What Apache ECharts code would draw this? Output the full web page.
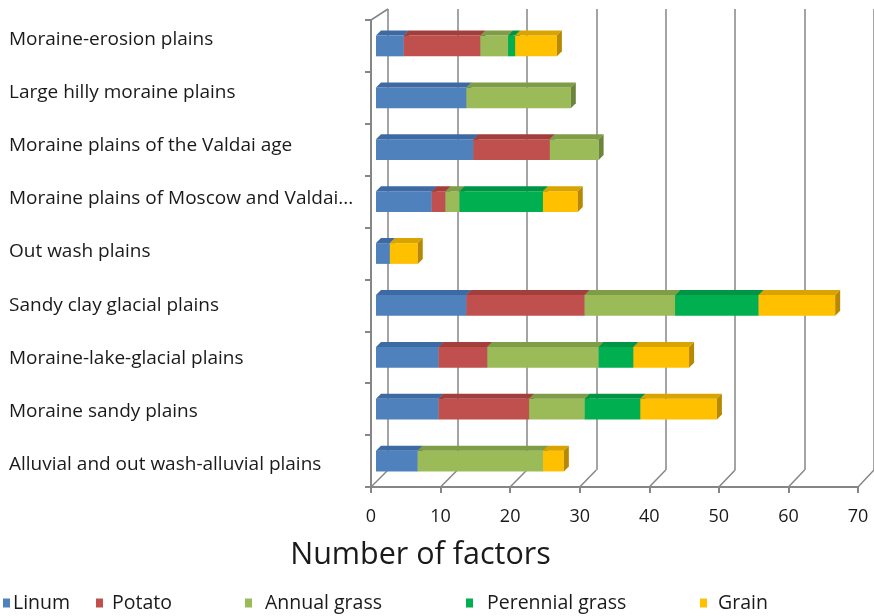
<!DOCTYPE html>
<html>
<head>
<meta charset="utf-8">
<script src="https://cdn.jsdelivr.net/npm/echarts@6/dist/echarts.min.js"></script>
<style>
  html, body { margin: 0; padding: 0; background: #fff; }
  #main { width: 874px; height: 616px; }
</style>
</head>
<body>
<div id="main"></div>
<script>
// data, top row first
const categories = [
  'Moraine-erosion plains',
  'Large hilly moraine plains',
  'Moraine plains of the Valdai age',
  'Moraine plains of Moscow and Valdai...',
  'Out wash plains',
  'Sandy clay glacial plains',
  'Moraine-lake-glacial plains',
  'Moraine sandy plains',
  'Alluvial and out wash-alluvial plains'
];
const linum = [4, 13, 14, 8, 2, 13, 9, 9, 6];
const potato = [11, 0, 11, 2, 0, 17, 7, 13, 0];
const annualGrass = [4, 15, 7, 2, 0, 13, 16, 8, 18];
const perennialGrass = [1, 0, 0, 12, 0, 12, 5, 8, 0];
const grain = [6, 0, 0, 5, 4, 11, 8, 11, 3];
const seriesNames = ['Linum', 'Potato', 'Annual grass', 'Perennial grass', 'Grain'];
const xTicks = [0, 10, 20, 30, 40, 50, 60, 70];

const front = ['#4f81bd', '#c0504d', '#9bbb59', '#00b050', '#ffc000'];
const topFace = ['#3e6aa3', '#a23e3b', '#7f9c47', '#009544', '#d9a300'];
const sideFace = ['#345a8c', '#8a3331', '#6b853b', '#007a37', '#b88800'];

const font = 'Open Sans';
const txt = '#1a1a1a';
const gridCol = '#868686';

const values = [linum, potato, annualGrass, perennialGrass, grain];
// running sums so each segment knows where it starts
const startAt = categories.map(() => 0);
const series = values.map((vals, si) => {
  const data = vals.map((v, ci) => {
    const s = startAt[ci];
    startAt[ci] += v;
    return [s, s + v, ci];
  });
  return {
    name: seriesNames[si],
    type: 'custom',
    xAxisIndex: 2,
    yAxisIndex: 2,
    itemStyle: { color: front[si] },
    encode: { x: [0, 1], y: 2 },
    renderItem: (params, api) => {
      const s = api.value(0), e = api.value(1), c = api.value(2);
      if (e <= s) return;
      const p0 = api.coord([s, c]);
      const p1 = api.coord([e, c]);
      const h = api.size([0, 1])[1] * 0.4;
      const d = 5;
      const y = p0[1] - h / 2;
      const x0 = p0[0], x1 = p1[0];
      return {
        type: 'group',
        children: [
          { type: 'rect', shape: { x: x0, y: y, width: x1 - x0, height: h }, style: { fill: front[si] } },
          { type: 'polygon', shape: { points: [[x0, y], [x0 + d, y - d], [x1 + d, y - d], [x1, y]] }, style: { fill: topFace[si] } },
          { type: 'polygon', shape: { points: [[x1, y], [x1 + d, y - d], [x1 + d, y + h - d], [x1, y + h]] }, style: { fill: sideFace[si] } }
        ]
      };
    },
    data: data
  };
});

// legend entries are spread unevenly in the original
const legendX = [-2, 91, 240, 461, 695];
const legendGap = [-2, 4, 8, 9, 6];
const legends = seriesNames.map((n, i) => ({
  data: [n],
  left: legendX[i],
  bottom: -2,
  icon: 'rect',
  itemWidth: 7,
  itemHeight: 9,
  textStyle: { fontFamily: font, fontSize: 19.5, color: txt, padding: [0, 0, 0, legendGap[i]] }
}));

const chart = echarts.init(document.getElementById('main'));
const option = {
  animation: false,
  color: front,
  legend: legends,
  grid: [
    { left: 371, right: 16, top: 20, bottom: 129 },   // front axes
    { left: 388, right: -1, top: 9, bottom: 146 },    // back wall lines
    { left: 376, right: 11, top: 20, bottom: 129 },   // bars
    { left: 371, right: 16, top: 13, bottom: 125 }    // category labels
  ],
  xAxis: [
    {
      gridIndex: 0, type: 'value', min: 0, max: 70, interval: 10,
      axisLine: { show: true, lineStyle: { color: gridCol, width: 2 } },
      axisTick: { show: true, length: 6, lineStyle: { color: gridCol, width: 2 } },
      axisLabel: { fontFamily: font, fontSize: 18, color: txt, margin: 21 },
      splitLine: { show: false },
      name: 'Number of factors', nameLocation: 'middle', nameGap: 53,
      nameTextStyle: { fontFamily: font, fontSize: 30.5, color: txt, padding: [0, 388, 0, 0] }
    },
    {
      gridIndex: 1, type: 'value', min: 0, max: 70, interval: 10,
      axisLine: { show: false }, axisTick: { show: false }, axisLabel: { show: false },
      splitLine: { show: true, lineStyle: { color: gridCol, width: 1.5 } }
    },
    { gridIndex: 2, type: 'value', min: 0, max: 70, show: false },
    { gridIndex: 3, type: 'value', min: 0, max: 70, show: false }
  ],
  yAxis: [
    {
      gridIndex: 0, type: 'category', data: categories, inverse: true,
      axisLine: { show: true, lineStyle: { color: gridCol, width: 2 } },
      axisTick: { show: true, length: 6, lineStyle: { color: gridCol, width: 2 } },
      axisLabel: { show: false }
    },
    { gridIndex: 1, type: 'category', data: categories, inverse: true, show: false },
    { gridIndex: 2, type: 'category', data: categories, inverse: true, show: false },
    {
      gridIndex: 3, type: 'category', data: categories, inverse: true,
      axisLine: { show: false }, axisTick: { show: false },
      axisLabel: { fontFamily: font, fontSize: 19, color: txt, align: 'left', margin: 362 }
    }
  ],
  series: series
};
chart.setOption(option);

// floor diagonals joining the front axis ticks to the back wall lines
const floorFront = 487, floorBack = 470;
const diag = xTicks.map(v => {
  const xf = chart.convertToPixel({ xAxisIndex: 0 }, v);
  const xb = chart.convertToPixel({ xAxisIndex: 1 }, v);
  return {
    type: 'line', silent: true,
    shape: { x1: xf, y1: floorFront, x2: xb, y2: floorBack },
    style: { stroke: gridCol, lineWidth: 1.5 }
  };
});
// top corner of the side wall
diag.push({
  type: 'line', silent: true,
  shape: {
    x1: chart.convertToPixel({ xAxisIndex: 0 }, 0), y1: 20,
    x2: chart.convertToPixel({ xAxisIndex: 1 }, 0), y2: 9
  },
  style: { stroke: gridCol, lineWidth: 1.5 }
});
chart.setOption({ graphic: diag });
</script>
</body>
</html>
